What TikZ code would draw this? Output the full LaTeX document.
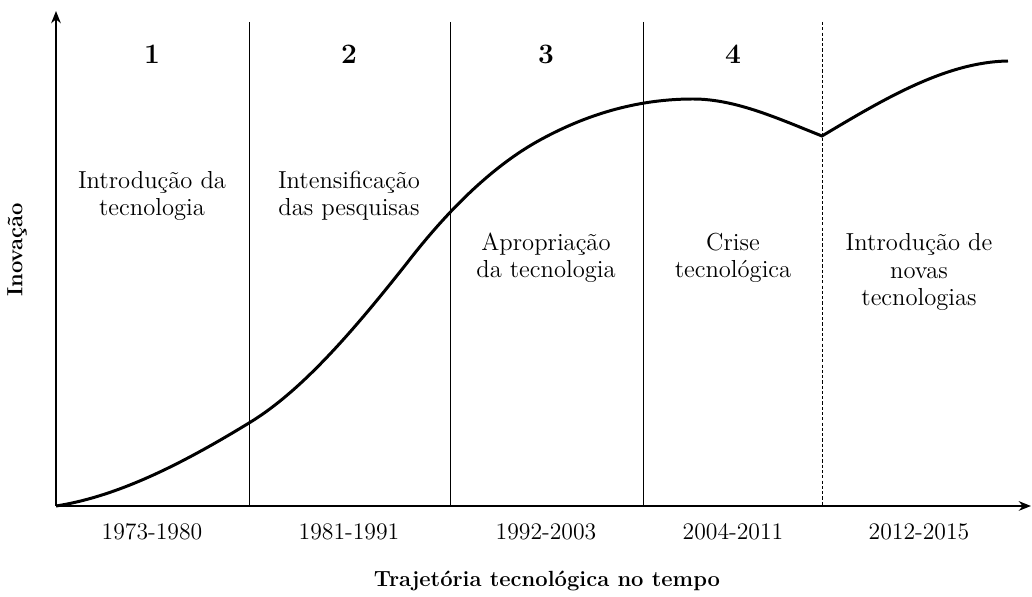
\documentclass[tikz,border=0pt]{standalone}
\usepackage{tikz}
\usetikzlibrary{
        arrows.meta,
        positioning
    }
\tikzset{>={Stealth[length=7pt,width=5.5pt]},x=0.02cm,y=-0.02cm}
\tikzset{phase/.style={align=center,font=\fontsize{14}{15.5}\selectfont}}
\tikzset{period/.style={font=\fontsize{13.5}{15.5}\selectfont}}
\tikzset{num/.style={font=\fontsize{16}{18}\selectfont\bfseries}}
\tikzset{axistitle/.style={font=\fontsize{12.5}{15}\selectfont\bfseries}}
\tikzset{divider/.style={line width=0.55pt}}

\begin{document}
\begin{tikzpicture}
                    \useasboundingbox (0,0) rectangle (1032,597);
                    \coordinate (o) at (56,506);
                    \coordinate (ytop) at (56,11);
                    \coordinate (xend) at (1031,506);
                    \draw[->,line width=0.8pt] (o) -- (ytop);
                    \draw[->,line width=0.8pt] (o) -- (xend);
                    % phase limits
                    \foreach \x in {249,450,643}
                        \draw[divider] (\x,22) -- (\x,506);
                    \draw[divider,dash pattern=on 1.8pt off 1.2pt] (822,22) -- (822,506);
                    % trajectory
                    \draw[line width=1.7pt,line join=miter]
                        (o) .. controls (120,496) and (185,462) .. (249,423)
                            .. controls (302,391) and (354,330) .. (407,263)
                            .. controls (451,206) and (496,164) .. (540,140)
                            .. controls (591,112) and (642,99) .. (693,99)
                            .. controls (736,99) and (779,119) .. (822,136)
                            .. controls (884,99) and (946,62) .. (1008,61);
                    % phase labels
                    \node[num] (n1) at (152,54) {1};
                    \node[num] (n2) at (349,54) {2};
                    \node[num] (n3) at (546,54) {3};
                    \node[num] (n4) at (733,54) {4};
                    \node[phase] (p1) at (152,196) {Introdução da\\tecnologia};
                    \node[phase] (p2) at (349,196) {Intensificação\\das pesquisas};
                    \node[phase] (p3) at (546,258) {Apropriação\\da tecnologia};
                    \node[phase] (p4) at (733,258) {Crise\\tecnológica};
                    \node[phase] (p5) at (919,272) {Introdução de\\novas\\tecnologias};
                    % periods
                    \node[period] (y1) at (152,532) {1973-1980};
                    \node[period] (y2) at (349,532) {1981-1991};
                    \node[period] (y3) at (546,532) {1992-2003};
                    \node[period] (y4) at (733,532) {2004-2011};
                    \node[period] (y5) at (919,532) {2012-2015};
                    % axis titles
                    \node[axistitle,rotate=90] (ylab) at (17,250) {Inovação};
                    \node[axistitle] (xlab) at (547,581) {Trajetória tecnológica no tempo};
            \end{tikzpicture}
\end{document}
